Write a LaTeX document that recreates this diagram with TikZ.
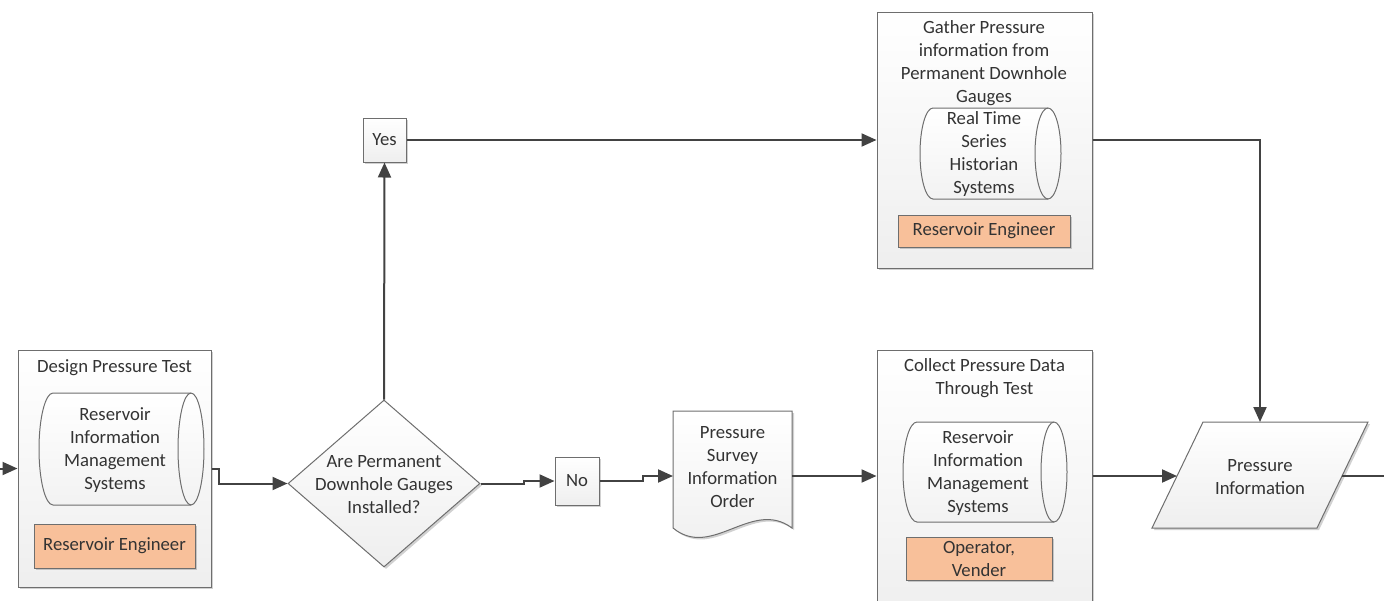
\documentclass[tikz,border=0pt]{standalone}
\usepackage{fontspec}
\setmainfont{Carlito}
\usetikzlibrary{arrows.meta,calc,shapes.geometric,shadows}
\definecolor{edgec}{HTML}{6E6E6E}
\definecolor{wirec}{HTML}{424242}
\definecolor{rolec}{HTML}{F8C09A}
\definecolor{txtc}{HTML}{333333}
\begin{document}
\begin{tikzpicture}[x=1pt,y=-1pt,
  every node/.style={font=\fontsize{18.7}{23}\selectfont, text=txtc},
  shade/.style={top color=white, bottom color=gray!13},
  sh/.style={drop shadow={shadow xshift=2pt, shadow yshift=-2pt, opacity=0.18, fill=black}},
  container/.style={draw=edgec, line width=1pt, shade, sh, inner sep=0pt},
  drum/.style={draw=edgec, line width=1pt, top color=white, bottom color=gray!10},
  tag/.style={draw=edgec, line width=1pt, fill=rolec, inner sep=0pt, align=center, sh},
  wire/.style={draw=wirec, line width=2pt, -{Triangle[length=15pt,width=13pt]}},
  plainwire/.style={draw=wirec, line width=2pt}]
\useasboundingbox (0,0) rectangle (1384,600);
\clip (0,0) rectangle (1384,600);

% ---------- Design Pressure Test ----------
\node[container, minimum width=193, minimum height=237] (L) at (114.5,468.5) {};
\node (Lt) at (114.5,368) {Design Pressure Test};
\path[drum] (53,393) -- (191,393) arc[start angle=90, end angle=-90, x radius=13pt, y radius=56pt]
  -- (53,505) arc[start angle=270, end angle=90, x radius=14pt, y radius=56pt] -- cycle;
\draw[edgec, line width=1pt] (191,393) arc[start angle=90, end angle=270, x radius=13pt, y radius=56pt];
\node[align=center] (Lc) at (115,450.5) {Reservoir\\Information\\Management\\Systems};
\node[tag, minimum width=161, minimum height=44] (Lr) at (114.5,546) {Reservoir Engineer};

% ---------- Decision ----------
\node[diamond, draw=edgec, line width=1pt, shade, sh, minimum width=192, minimum height=167, inner sep=0pt] (D) at (384,483.5) {};
\node[align=center] (Dt) at (384,484.5) {Are Permanent\\Downhole Gauges\\Installed?};

\node[container, minimum width=43, minimum height=44] (Y) at (384.5,140) {Yes};
\node[container, minimum width=44, minimum height=48] (N) at (577,481) {No};

% ---------- Document ----------
\node[minimum width=119, minimum height=117, inner sep=0pt] (Doc) at (732.5,469.5) {};
\path[draw=edgec, line width=1pt, shade, sh] (673,411) -- (792,411) -- (792,528)
  .. controls (752,498) and (712,560) .. (673,528) -- cycle;
\node[align=center] (Doct) at (732.5,467) {Pressure\\Survey\\Information\\Order};

% ---------- Gather (top) ----------
\node[container, minimum width=215, minimum height=256] (T) at (984.5,140) {};
\node[align=center] (Tt) at (984,63.5) {Gather Pressure\\information from\\Permanent Downhole\\Gauges};
\path[drum] (933,108) -- (1048,108) arc[start angle=90, end angle=-90, x radius=13pt, y radius=45.5pt]
  -- (933,199) arc[start angle=270, end angle=90, x radius=13pt, y radius=45.5pt] -- cycle;
\draw[edgec, line width=1pt] (1048,108) arc[start angle=90, end angle=270, x radius=13pt, y radius=45.5pt];
\node[align=center] (Tc) at (984,154.5) {Real Time\\Series\\Historian\\Systems};
\node[tag, minimum width=172, minimum height=32] (Tr) at (984,231) {Reservoir Engineer};

% ---------- Collect (bottom) ----------
\node[container, minimum width=215, minimum height=270] (C) at (984.5,485) {};
\node[align=center] (Ct) at (984.5,378.5) {Collect Pressure Data\\Through Test};
\path[drum] (917,422) -- (1054,422) arc[start angle=90, end angle=-90, x radius=13pt, y radius=50pt]
  -- (917,522) arc[start angle=270, end angle=90, x radius=14pt, y radius=50pt] -- cycle;
\draw[edgec, line width=1pt] (1054,422) arc[start angle=90, end angle=270, x radius=13pt, y radius=50pt];
\node[align=center] (Cc) at (978,473.5) {Reservoir\\Information\\Management\\Systems};
\node[tag, minimum width=146, minimum height=43] (Cr) at (979,558.5) {Operator,\\Vender};

% ---------- Pressure Information ----------
\path[draw=edgec, line width=1pt, shade, sh] (1203,422) -- (1368,422) -- (1317,528) -- (1152,528) -- cycle;
\node[align=center] (P) at (1260,477.5) {Pressure\\Information};

% ---------- coordinates ----------
\coordinate (in) at (0,468.5);
\coordinate (docin) at (673,476);
\coordinate (docout) at (792,476);
\coordinate (Ptop) at (1260,422);
\coordinate (Pleft) at (1177,476);
\coordinate (Pright) at (1342,476);
\coordinate (out) at (1384,476);

% ---------- connectors ----------
\draw[wire] (in) -- (L.west);
\draw[wire] (L.east) -- ++(7,0) |- (D.west);
\draw[wire] (D.north) -- (Y.south);
\draw[wire] (Y.east) -- (T.west);
\draw[wire] (D.east) -- ++(43,0) |- (N.west);
\draw[wire] (N.east) -- ++(43,0) |- (docin);
\draw[wire] (docout) -- (docout -| C.west);
\draw[wire] (T.east) -| (Ptop);
\draw[wire] (Pleft -| C.east) -- (Pleft);
\draw[plainwire] (Pright) -- (out);
\end{tikzpicture}
\end{document}
